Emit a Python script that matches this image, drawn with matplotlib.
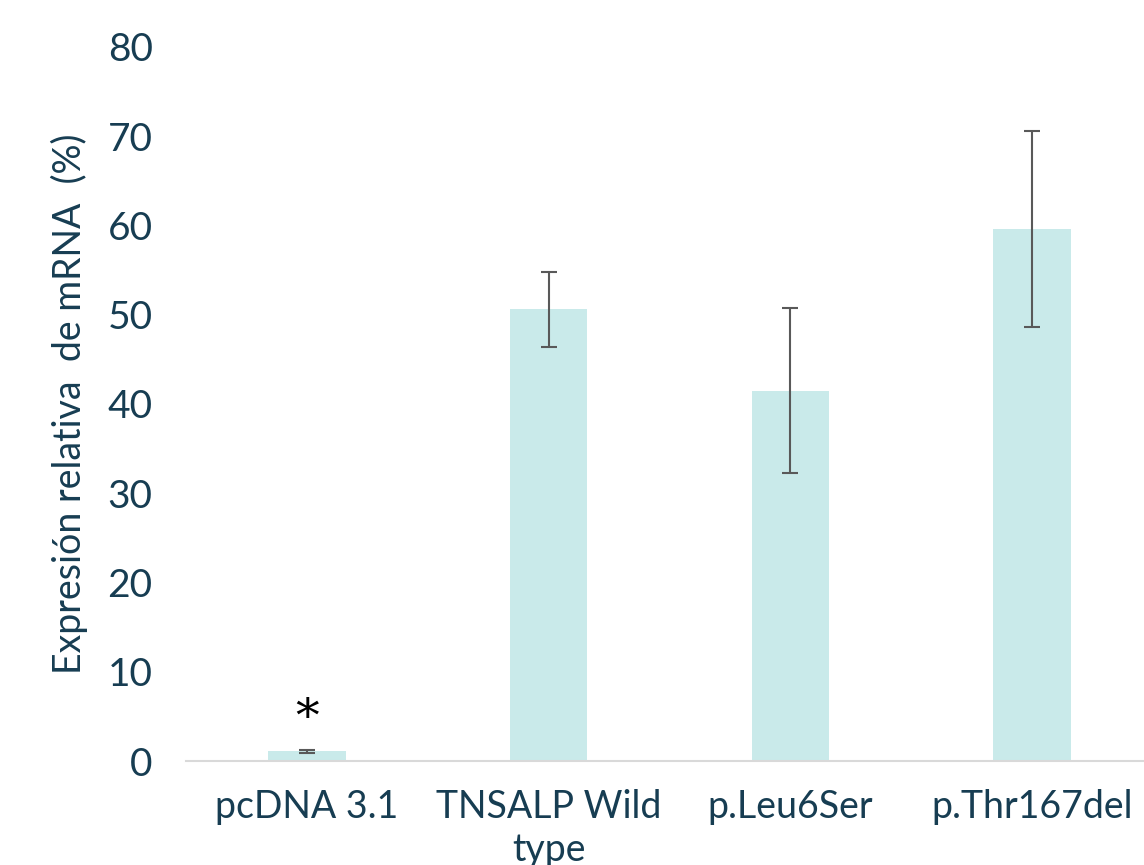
import matplotlib.pyplot as plt

# data
categories = ["pcDNA 3.1", "TNSALP Wild\ntype", "p.Leu6Ser", "p.Thr167del"]
expresion = [1.1, 50.6, 41.5, 59.6]
error = [0.15, 4.2, 9.2, 11.0]
y_ticks = [0, 10, 20, 30, 40, 50, 60, 70, 80]

text_color = "#173d52"
bar_color = "#c9eaea"

fig = plt.figure(figsize=(11.44, 8.65), dpi=100)
ax = fig.add_axes([0.1626, 0.1202, 0.8374, 0.8255])

x = range(len(categories))
ax.bar(x, expresion, width=0.32, color=bar_color, zorder=2)
ax.errorbar(x, expresion, yerr=error, fmt="none", ecolor="#595959",
            elinewidth=1.5, capsize=6, capthick=1.5, zorder=3)

# asterisk over the empty vector bar
ax.text(0, expresion[0] + error[0] + 3.4, "*", ha="center", va="center",
        fontsize=34, color="black", family="DejaVu Serif")

ax.set_xlim(-0.5, 3.463)
ax.set_ylim(0, 80)
ax.set_yticks(y_ticks)
ax.set_xticks(list(x))
ax.set_xticklabels(categories, fontsize=27, color=text_color, family="Lato",
                   linespacing=1.25)
ax.set_yticklabels([str(v) for v in y_ticks], fontsize=28, color=text_color, family="Lato")
ax.tick_params(axis="both", length=0)
ax.tick_params(axis="y", pad=24)
ax.tick_params(axis="x", pad=20)

ax.set_ylabel("Expresión relativa  de mRNA  (%)", fontsize=27, color=text_color,
              family="Lato", labelpad=14)

for s in ["top", "right", "left"]:
    ax.spines[s].set_visible(False)
ax.spines["bottom"].set_color("#d9d9d9")
ax.spines["bottom"].set_linewidth(1.5)

fig.savefig("out.png", dpi=100)
